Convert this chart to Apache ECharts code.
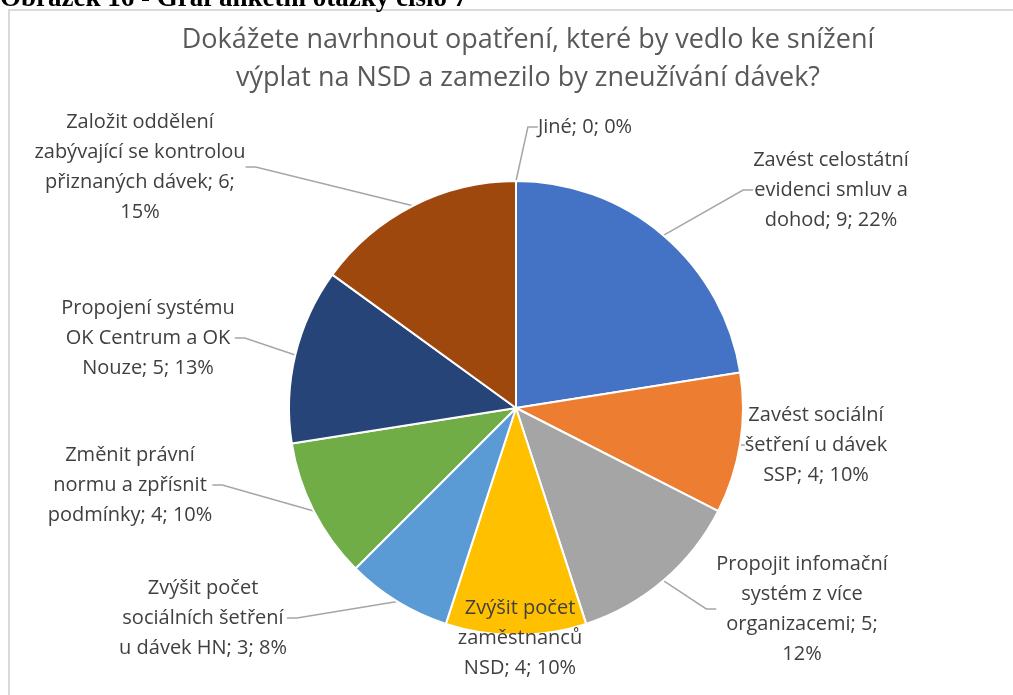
<!DOCTYPE html>
<html>
<head>
<meta charset="utf-8">
<script src="https://cdn.jsdelivr.net/npm/echarts@6/dist/echarts.min.js"></script>
<style>
  html, body { margin: 0; padding: 0; background: #fff; }
  #main { width: 1013px; height: 695px; }
</style>
</head>
<body>
<div id="main"></div>
<script>
// data (order = clockwise from 12 o'clock)
var categories = [
  'Zavést celostátní evidenci smluv a dohod',
  'Zavést sociální šetření u dávek SSP',
  'Propojit infomační systém z více organizacemi',
  'Zvýšit počet zaměstnanců NSD',
  'Zvýšit počet sociálních šetření u dávek HN',
  'Změnit právní normu a zpřísnit podmínky',
  'Propojení systému OK Centrum a OK Nouze',
  'Založit oddělení zabývající se kontrolou přiznaných dávek',
  'Jiné'
];
var values = [9, 4, 5, 4, 3, 4, 5, 6, 0];
var percents = [22, 10, 12, 10, 8, 10, 13, 15, 0];
// wrapped label text as in the picture
var labelTexts = [
  'Zavést celostátní\nevidenci smluv a\ndohod; 9; 22%',
  'Zavést sociální\nšetření u dávek\nSSP; 4; 10%',
  'Propojit infomační\nsystém z více\norganizacemi; 5;\n12%',
  'Zvýšit počet\nzaměstnanců\nNSD; 4; 10%',
  'Zvýšit počet\nsociálních šetření\nu dávek HN; 3; 8%',
  'Změnit právní\nnormu a zpřísnit\npodmínky; 4; 10%',
  'Propojení systému\nOK Centrum a OK\nNouze; 5; 13%',
  'Založit oddělení\nzabývající se kontrolou\npřiznaných dávek; 6;\n15%',
  'Jiné; 0; 0%'
];
var colors = ['#4472C4', '#ED7D31', '#A5A5A5', '#FFC000', '#5B9BD5', '#70AD47', '#264478', '#9E480E', '#636363'];

// label centres (layout only)
var labelPos = [
  [831, 190], [816, 445], [802, 609], [520, 638], [203, 618],
  [130, 485], [148, 338], [140, 167], [585, 127]
];

var myChart = echarts.init(document.getElementById('main'));

var pieData = categories.map(function (name, i) {
  var item = { name: name, value: values[i] };
  if (i === 3) {
    item.labelLine = { show: false };
  }
  return item;
});

var option = {
  backgroundColor: '#fff',
  color: colors,
  animation: false,
  graphic: [
    {
      type: 'rect',
      shape: { x: 9, y: 10, width: 1010, height: 700 },
      style: { fill: 'none', stroke: '#D9D9D9', lineWidth: 2 }
    },
    {
      type: 'text',
      x: 0,
      y: 13,
      style: {
        text: 'Obrázek 16 - Graf anketní otázky číslo 7',
        font: 'bold 27px "Liberation Serif"',
        fill: '#000',
        verticalAlign: 'bottom'
      }
    }
  ],
  title: {
    text: 'Dokážete navrhnout opatření, které by vedlo ke snížení\nvýplat na NSD a zamezilo by zneužívání dávek?',
    left: 523,
    top: 16,
    textAlign: 'center',
    textStyle: {
      fontFamily: 'Open Sans',
      fontSize: 27,
      fontWeight: 'normal',
      color: '#595959',
      lineHeight: 38
    }
  },
  series: [
    {
      type: 'pie',
      center: [516, 408],
      radius: 227,
      startAngle: 90,
      clockwise: true,
      avoidLabelOverlap: false,
      itemStyle: { borderColor: '#fff', borderWidth: 2 },
      label: {
        show: true,
        position: 'outside',
        fontFamily: 'Open Sans',
        fontSize: 20,
        lineHeight: 30,
        color: '#404040',
        align: 'center',
        formatter: function (p) {
          return labelTexts[p.dataIndex];
        }
      },
      labelLine: {
        show: true,
        length: 10,
        length2: 10,
        lineStyle: { color: '#A6A6A6', width: 1.5 }
      },
      labelLayout: function (params) {
        var p = labelPos[params.dataIndex];
        return {
          x: p[0],
          y: p[1],
          align: 'center',
          verticalAlign: 'middle'
        };
      },
      data: pieData
    }
  ]
};

myChart.setOption(option);
</script>
</body>
</html>
